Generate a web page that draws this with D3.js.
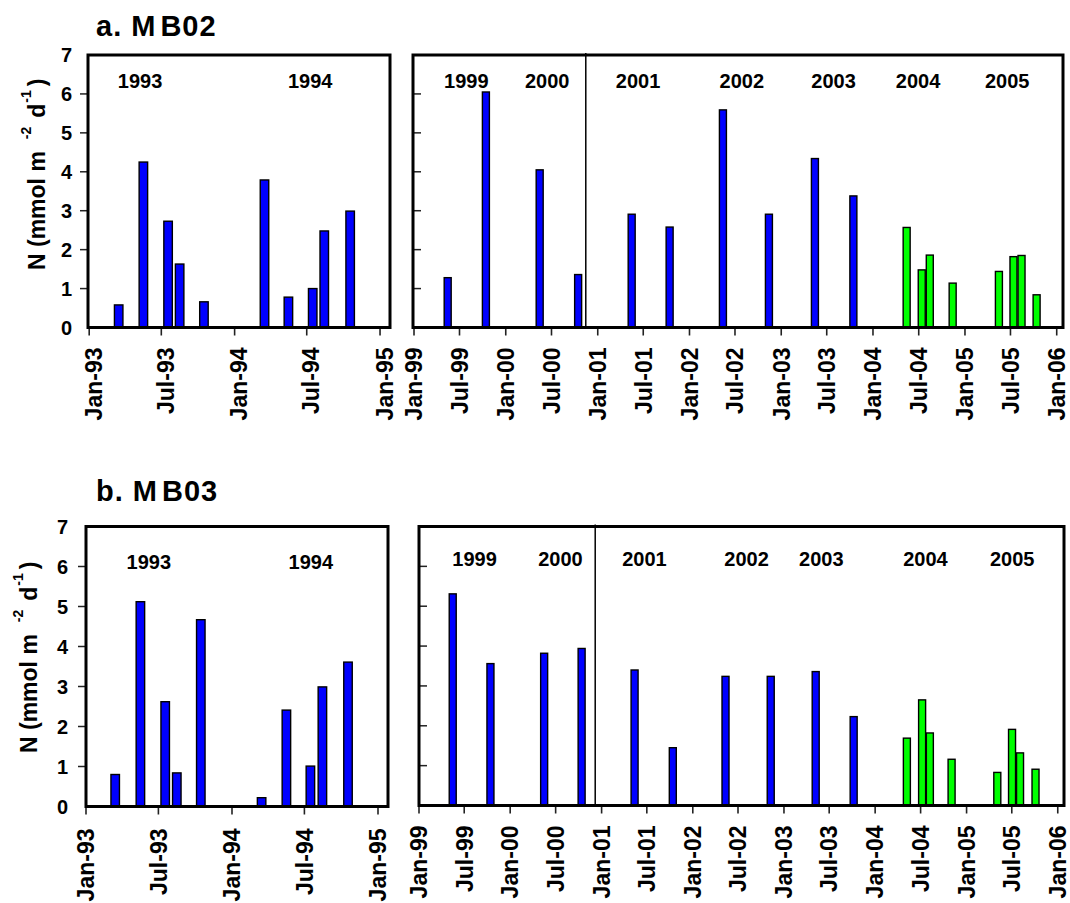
<!DOCTYPE html>
<html>
<head>
<meta charset="utf-8">
<script src="https://cdn.jsdelivr.net/npm/d3@7"></script>
<style>
  body { margin: 0; background: #fff; }
  svg text { font-family: Arial, "Liberation Sans", sans-serif; font-weight: bold; fill: #000; }
</style>
</head>
<body>
<svg id="chart" width="1070" height="903"></svg>
<script>
// MB02, 1993-1994
var mb02EarlyDates = ["1993-03-16", "1993-05-17", "1993-07-18", "1993-08-16", "1993-10-16",
                      "1994-03-17", "1994-05-16", "1994-07-16", "1994-08-14", "1994-10-18"];
var mb02EarlyVals = [0.58, 4.25, 2.73, 1.63, 0.66, 3.79, 0.78, 1.0, 2.48, 2.99];

// MB02, 1999-2005 (blue then green)
var mb02BlueDates = ["1999-05-15", "1999-10-14", "2000-05-15", "2000-10-15", "2001-05-16",
                     "2001-10-14", "2002-05-14", "2002-11-13", "2003-05-15", "2003-10-15"];
var mb02BlueVals = [1.28, 6.05, 4.05, 1.36, 2.91, 2.58, 5.59, 2.91, 4.34, 3.38];
var mb02GreenDates = ["2004-05-14", "2004-07-13", "2004-08-14", "2004-11-13",
                      "2005-05-16", "2005-07-13", "2005-08-14", "2005-10-13"];
var mb02GreenVals = [2.57, 1.48, 1.86, 1.14, 1.44, 1.82, 1.85, 0.84];

// MB03, 1993-1994
var mb03EarlyDates = ["1993-03-15", "1993-05-17", "1993-07-18", "1993-08-16", "1993-10-15",
                      "1994-03-16", "1994-05-17", "1994-07-16", "1994-08-15", "1994-10-18"];
var mb03EarlyVals = [0.80, 5.12, 2.62, 0.84, 4.67, 0.22, 2.41, 1.01, 2.99, 3.61];

// MB03, 1999-2005
var mb03BlueDates = ["1999-05-16", "1999-10-14", "2000-05-16", "2000-10-13", "2001-05-13",
                     "2001-10-13", "2002-05-12", "2002-11-09", "2003-05-08", "2003-10-07"];
var mb03BlueVals = [5.31, 3.56, 3.82, 3.94, 3.40, 1.45, 3.24, 3.24, 3.36, 2.23];
var mb03GreenDates = ["2004-05-07", "2004-07-07", "2004-08-07", "2004-11-02",
                      "2005-05-04", "2005-07-02", "2005-08-03", "2005-10-04"];
var mb03GreenVals = [1.69, 2.65, 1.82, 1.16, 0.83, 1.91, 1.32, 0.91];

// year annotations (decimal year where each label sits)
var yearsEarly = ["1993", "1994"];
var mb02YearsEarlyAt = [1993.35, 1994.52];
var mb03YearsEarlyAt = [1993.43, 1994.54];
var yearsLate = ["1999", "2000", "2001", "2002", "2003", "2004", "2005"];
var mb02YearsLateAt = [1999.57, 2000.45, 2001.44, 2002.57, 2003.57, 2004.49, 2005.46];
var mb03YearsLateAt = [1999.61, 2000.55, 2001.47, 2002.59, 2003.41, 2004.55, 2005.50];
var mb02Divider = 2000.87;
var mb03Divider = 2000.93;

var yTicks = [0, 1, 2, 3, 4, 5, 6, 7];
var panelTitles = ["a. M", "b. M"];
var panelTitlesEnd = ["B02", "B03"];

var parse = d3.timeParse("%Y-%m-%d");
var fmt = d3.timeFormat("%b-%y");
function fromDecimal(y) {
    var yr = Math.floor(y);
    var start = new Date(yr, 0, 1), end = new Date(yr + 1, 0, 1);
    return new Date(+start + (y - yr) * (end - start));
}

var svg = d3.select("#chart");
svg.append("rect").attr("width", 1070).attr("height", 903).attr("fill", "#fff");

function drawPanel(c) {
    var g = svg.append("g");
    var x = d3.scaleTime().domain(c.domain).range([c.left, c.right]);
    var y = d3.scaleLinear().domain([0, 7]).range([c.bottom, c.top]);

    // bars
    c.series.forEach(function (s) {
        g.selectAll(null)
            .data(s.dates.map(function (d, i) { return { date: parse(d), v: s.vals[i] }; }))
            .enter().append("rect")
            .attr("x", function (d) { return x(d.date) - c.barW / 2; })
            .attr("y", function (d) { return y(d.v); })
            .attr("width", c.barW)
            .attr("height", function (d) { return y(0) - y(d.v); })
            .attr("fill", s.color)
            .attr("stroke", "#000")
            .attr("stroke-width", 1.4);
    });

    if (c.divider) {
        g.append("line")
            .attr("x1", x(fromDecimal(c.divider))).attr("x2", x(fromDecimal(c.divider)))
            .attr("y1", c.top - 2).attr("y2", c.bottom)
            .attr("stroke", "#000").attr("stroke-width", 1.5);
    }

    // year labels
    g.selectAll(null)
        .data(c.years)
        .enter().append("text")
        .attr("x", function (d, i) { return x(fromDecimal(c.yearsAt[i])); })
        .attr("y", c.yearY)
        .attr("text-anchor", "middle")
        .attr("font-size", 20)
        .text(function (d) { return d; });

    // y ticks
    g.selectAll(null)
        .data(yTicks.slice(1, 7))
        .enter().append("line")
        .attr("x1", c.left)
        .attr("x2", c.outer ? c.left - 8 : c.left + 8)
        .attr("y1", function (d) { return y(d); })
        .attr("y2", function (d) { return y(d); })
        .attr("stroke", "#222").attr("stroke-width", 1.5);

    if (c.outer) {
        g.selectAll(null)
            .data(yTicks)
            .enter().append("text")
            .attr("x", c.left - c.yLabGap)
            .attr("y", function (d) { return y(d); })
            .attr("dy", "0.36em")
            .attr("text-anchor", "end")
            .attr("font-size", 20)
            .text(function (d) { return d; });
    }

    // x ticks and rotated labels
    var xt = x.ticks(d3.timeMonth.every(6));
    g.selectAll(null)
        .data(xt)
        .enter().append("line")
        .attr("x1", function (d) { return x(d); })
        .attr("x2", function (d) { return x(d); })
        .attr("y1", c.bottom).attr("y2", c.bottom + 8)
        .attr("stroke", "#222").attr("stroke-width", 1.6);

    g.selectAll(null)
        .data(xt)
        .enter().append("text")
        .attr("transform", function (d) {
            return "translate(" + (x(d) + c.labShift) + "," + (c.bottom + c.labGap) + ") rotate(-90)";
        })
        .attr("text-anchor", "end")
        .attr("font-size", 23)
        .text(function (d) { return fmt(d); });

    // frame
    g.append("rect")
        .attr("x", c.left).attr("y", c.top)
        .attr("width", c.right - c.left).attr("height", c.bottom - c.top)
        .attr("fill", "none").attr("stroke", "#000").attr("stroke-width", 3);
}

function yTitle(tx, ty) {
    var t = svg.append("text")
        .attr("transform", "translate(" + tx + "," + ty + ") rotate(-90)")
        .attr("font-size", 23);
    t.append("tspan").text("N (mmol m");
    t.append("tspan").attr("dx", 12).attr("dy", -14).attr("font-size", 14).text("-2");
    t.append("tspan").attr("dx", 9).attr("dy", 14).text("d");
    t.append("tspan").attr("dx", 1).attr("dy", -14).attr("font-size", 14).text("-1");
    t.append("tspan").attr("dx", 4).attr("dy", 14).text(")");
}

function panelTitle(i, ty) {
    var t = svg.append("text").attr("x", 96).attr("y", ty).attr("font-size", 29)
        .attr("letter-spacing", 1);
    t.append("tspan").text(panelTitles[i]);
    t.append("tspan").attr("dx", 4).text(panelTitlesEnd[i]);
}

// --- panel a: MB02 ---
panelTitle(0, 36);
yTitle(45, 270);

drawPanel({
    left: 88, right: 390, top: 55, bottom: 327.5,
    domain: [new Date(1992, 11, 29), new Date(1995, 0, 26)],
    series: [{ dates: mb02EarlyDates, vals: mb02EarlyVals, color: "#0000ff" }],
    barW: 8.5, years: yearsEarly, yearsAt: mb02YearsEarlyAt, yearY: 88, outer: true,
    yLabGap: 16, labShift: 12.5, labGap: 20
});
drawPanel({
    left: 413, right: 1063, top: 55, bottom: 327.5,
    domain: [new Date(1998, 11, 28), new Date(2006, 0, 26)],
    series: [{ dates: mb02BlueDates, vals: mb02BlueVals, color: "#0000ff" },
             { dates: mb02GreenDates, vals: mb02GreenVals, color: "#00ff00" }],
    barW: 7, years: yearsLate, yearsAt: mb02YearsLateAt, yearY: 87.5, outer: false,
    divider: mb02Divider, labShift: 8.3, labGap: 20
});

// --- panel b: MB03 ---
panelTitle(1, 501);
yTitle(37, 753);

drawPanel({
    left: 86, right: 388, top: 526.5, bottom: 806.5,
    domain: [new Date(1993, 0, 1), new Date(1995, 0, 26)],
    series: [{ dates: mb03EarlyDates, vals: mb03EarlyVals, color: "#0000ff" }],
    barW: 8.5, years: yearsEarly, yearsAt: mb03YearsEarlyAt, yearY: 569, outer: true,
    yLabGap: 18, labShift: 8.3, labGap: 22
});
drawPanel({
    left: 419, right: 1064, top: 526.5, bottom: 805.5,
    domain: [new Date(1999, 0, 1), new Date(2006, 0, 26)],
    series: [{ dates: mb03BlueDates, vals: mb03BlueVals, color: "#0000ff" },
             { dates: mb03GreenDates, vals: mb03GreenVals, color: "#00ff00" }],
    barW: 7, years: yearsLate, yearsAt: mb03YearsLateAt, yearY: 566, outer: false,
    divider: mb03Divider, labShift: 8.3, labGap: 20
});
</script>
</body>
</html>
